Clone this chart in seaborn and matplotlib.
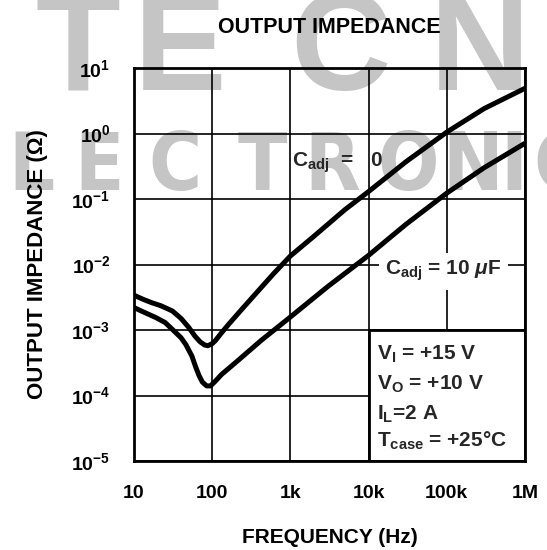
import matplotlib
matplotlib.use("Agg")
import matplotlib.pyplot as plt
import seaborn as sns
import pandas as pd
from matplotlib import font_manager
from matplotlib.patches import Rectangle

# ---------------- data ----------------
freq_c0 = [10, 13, 17, 22, 31, 40, 50, 60, 70, 80, 88, 100, 110, 130, 163,
           250, 427, 600, 1000, 2000, 5000, 10000, 30000, 100000, 300000, 1000000]
z_c0 = [3.4e-3, 2.95e-3, 2.6e-3, 2.35e-3, 1.95e-3, 1.5e-3, 1.1e-3, 8.1e-4, 6.6e-4,
        5.9e-4, 5.75e-4, 6.2e-4, 6.9e-4, 8.9e-4, 1.23e-3,
        2.2e-3, 4.5e-3, 7.1e-3, 1.35e-2, 2.7e-2, 6.9e-2, 0.13, 0.37, 1.05, 2.4, 4.9]

freq_c10 = [10, 13, 19, 25, 31, 40, 46, 55, 61, 68, 75, 85, 95, 110, 132,
            200, 427, 1000, 3000, 10000, 30000, 100000, 300000, 1000000]
z_c10 = [2.2e-3, 1.9e-3, 1.55e-3, 1.3e-3, 1.02e-3, 7.6e-4, 6.0e-4, 4.0e-4, 2.8e-4,
         2.0e-4, 1.6e-4, 1.4e-4, 1.4e-4, 1.66e-4, 2.1e-4,
         3.2e-4, 7.0e-4, 1.58e-3, 4.6e-3, 1.38e-2, 4.1e-2, 0.123, 0.30, 0.71]

x_ticks = [10, 100, 1e3, 1e4, 1e5, 1e6]
x_tick_labels = ["10", "100", "1k", "10k", "100k", "1M"]
y_exponents = [-5, -4, -3, -2, -1, 0, 1]
y_ticks = [10.0 ** e for e in y_exponents]
y_tick_labels = [r"$\mathbf{10^{%d}}$" % e for e in y_exponents]

series_c0 = "C_adj = 0"
series_c10 = "C_adj = 10 uF"

title = "OUTPUT IMPEDANCE"
xlabel = "FREQUENCY (Hz)"
ylabel = "OUTPUT IMPEDANCE (\u03a9)"
label_c0 = r"C$_\mathrm{adj}$  =   0"
label_c10 = r"C$_\mathrm{adj}$ = 10 $\mu$F"
cond_lines = [r"V$_\mathrm{I}$ = +15 V", r"V$_\mathrm{O}$ = +10 V",
              r"I$_\mathrm{L}$=2 A", r"T$_\mathrm{case}$ = +25°C"]

wm_top = ["T", "E", "C", "N"]
wm_mid = list("ELECTRONIC")

# ---------------- style ----------------
sns.set_theme(style="white")
MAIN = "Liberation Sans"
ttf = font_manager.fontManager.ttflist
names = {f.name for f in ttf}
if "Liberation Sans Narrow" in names:
    WM_FP = font_manager.FontProperties(family="Liberation Sans Narrow", weight="bold")
    WM_MID_SIZE = 60
elif any(f.name == "DejaVu Sans" and "ondensed" in str(f.stretch) for f in ttf):
    WM_FP = font_manager.FontProperties(family="DejaVu Sans", weight="bold",
                                        stretch="condensed")
    WM_MID_SIZE = 58
else:
    WM_FP = font_manager.FontProperties(family=MAIN, weight="bold")
    WM_MID_SIZE = 56

plt.rcParams["font.family"] = [MAIN, "DejaVu Sans"]
plt.rcParams["font.weight"] = "bold"
plt.rcParams["mathtext.fontset"] = "custom"
plt.rcParams["mathtext.rm"] = MAIN + ":bold"
plt.rcParams["mathtext.sf"] = MAIN + ":bold"
plt.rcParams["mathtext.it"] = MAIN + ":bold:italic"
plt.rcParams["mathtext.bf"] = MAIN + ":bold"

W, H = 547, 550
fig = plt.figure(figsize=(W / 100, H / 100), dpi=100, facecolor="white")
ax = fig.add_axes([134 / W, 1 - 461 / H, 391 / W, 393 / H])
ax.set_facecolor("none")

# ---------------- watermark (behind everything) ----------------
WM = "#c5c5c5"
top_x = [78, 180, 340, 480]
for ch, xp in zip(wm_top, top_x):
    fig.text(xp / W, 1 - 90 / H, ch, ha="center", va="baseline", fontsize=100,
             fontweight="bold", family=MAIN, color=WM, zorder=-5)
mid_x = [-35, 31, 99, 175, 262, 332, 408, 473, 514, 560]
for ch, xp in zip(wm_mid, mid_x):
    fig.text(xp / W, 1 - 190 / H, ch, ha="center", va="baseline",
             fontproperties=WM_FP, fontsize=WM_MID_SIZE, color=WM, zorder=-5)

# ---------------- curves ----------------
df = pd.concat([
    pd.DataFrame({"f": freq_c0, "z": z_c0, "series": series_c0}),
    pd.DataFrame({"f": freq_c10, "z": z_c10, "series": series_c10}),
], ignore_index=True)
sns.lineplot(data=df, x="f", y="z", hue="series", palette=["black", "black"],
             linewidth=3.6, legend=False, estimator=None, sort=False, ax=ax,
             zorder=2.5)
for ln in ax.get_lines():
    ln.set_solid_capstyle("butt")
    ln.set_solid_joinstyle("round")

ax.set_xscale("log")
ax.set_yscale("log")
ax.set_xlim(x_ticks[0], x_ticks[-1])
ax.set_ylim(y_ticks[0], y_ticks[-1])
ax.set_xticks(x_ticks)
ax.set_xticklabels(x_tick_labels)
ax.set_yticks(y_ticks)
ax.set_yticklabels(y_tick_labels)
ax.minorticks_off()
ax.set_axisbelow(True)
ax.grid(True, which="major", color="black", linewidth=1.2)
ax.tick_params(axis="both", length=0, labelsize=14, colors="black")
ax.tick_params(axis="x", pad=17)
ax.tick_params(axis="y", pad=17)
for lab in ax.get_xticklabels():
    lab.set_fontweight("bold")
for sp in ax.spines.values():
    sp.set_visible(True)
    sp.set_color("black")
    sp.set_linewidth(2.0)

# conditions box
ax.add_patch(Rectangle((x_ticks[3], y_ticks[0]), x_ticks[5] - x_ticks[3],
                       y_ticks[2] - y_ticks[0], transform=ax.transData,
                       facecolor="white", edgecolor="black", linewidth=2.0,
                       zorder=1.5))
cond_y = [0.257, 0.1807, 0.1043, 0.0356]
for txt, yy in zip(cond_lines, cond_y):
    ax.text(0.6215, yy, txt, transform=ax.transAxes, fontsize=15,
            fontweight="bold", ha="left", va="baseline", zorder=3)

# curve labels
ax.text(0.404, 0.748, label_c0, transform=ax.transAxes, fontsize=15,
        fontweight="bold", ha="left", va="baseline", zorder=3)
ax.text(0.642, 0.473, label_c10, transform=ax.transAxes, fontsize=15,
        fontweight="bold", ha="left", va="baseline", zorder=1.8,
        bbox=dict(boxstyle="square,pad=0.3", facecolor="white", edgecolor="none"))

# titles / labels
ax.set_title(title, fontsize=15.5, fontweight="bold", pad=25, color="black")
ax.set_xlabel(xlabel, fontsize=15, fontweight="bold", color="black")
ax.set_ylabel(ylabel, fontsize=16, fontweight="bold", color="black")
ax.xaxis.label.set_va("center")
ax.yaxis.label.set_va("center")
ax.xaxis.set_label_coords(0.5, -0.1947)
ax.yaxis.set_label_coords(-0.247, 0.5)

fig.savefig("out.png", dpi=100, facecolor="white")
